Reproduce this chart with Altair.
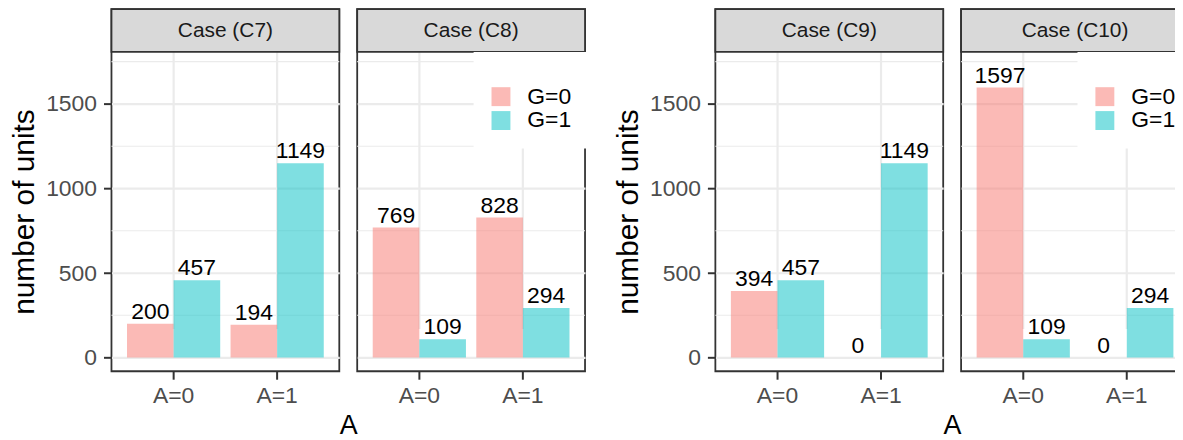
import altair as alt
import pandas as pd

# ---- data ----
cases = ["Case (C7)", "Case (C8)", "Case (C9)", "Case (C10)"]
a_levels = ["A=0", "A=0", "A=1", "A=1"]
g_levels = ["G=0", "G=1", "G=0", "G=1"]
counts_c7 = [200, 457, 194, 1149]
counts_c8 = [769, 109, 828, 294]
counts_c9 = [394, 457, 0, 1149]
counts_c10 = [1597, 109, 0, 294]
major_ticks = [0, 500, 1000, 1500]
minor_ticks = [250, 750, 1250, 1750]
g_domain = ["G=0", "G=1"]
g_colors = ["#F8766D", "#00BFC4"]

FONT = "Liberation Sans"
W, H, STRIP = 229, 364, 43
GRID = "#EBEBEB"
DARK = "#333333"

yscale = alt.Scale(domain=[-80.6, 1807.6], range=[H, STRIP], nice=False, zero=False)
xscale = alt.Scale(domain=["A=0", "A=1"], paddingInner=0.1, paddingOuter=0.15)
oscale = alt.Scale(domain=g_domain, paddingInner=0, paddingOuter=0)


def panel(case, counts, show_y, show_legend):
    df = pd.DataFrame({"A": a_levels, "G": g_levels, "n": counts})
    minor = pd.DataFrame({"v": minor_ticks})
    strip = pd.DataFrame({"case": [case]})

    if show_y:
        yaxis = alt.Axis(values=major_ticks, format="d", title="number of units",
                         titleFontSize=30, titleFontWeight="normal", titleColor="black",
                         titlePadding=6, labelFontSize=23, labelColor="#4D4D4D",
                         labelPadding=7, tickSize=8, tickColor=DARK, tickWidth=2,
                         domain=False, grid=True, gridColor=GRID, gridWidth=2.2)
    else:
        yaxis = alt.Axis(values=major_ticks, labels=False, ticks=False, domain=False,
                         title=None, grid=True, gridColor=GRID, gridWidth=2.2)
    xaxis = alt.Axis(title=None, labelAngle=0, labelFontSize=23, labelColor="#4D4D4D",
                     tickColor=DARK, tickWidth=2, tickSize=8, labelPadding=5,
                     domain=False, grid=True, gridColor=GRID, gridWidth=2.2)

    if show_legend:
        legend = alt.Legend(orient="none", legendX=117, legendY=STRIP, fillColor="white",
                            padding=16, title=" ", titleFontSize=10, titlePadding=7.5,
                            symbolType="square", symbolSize=361, symbolStrokeWidth=0,
                            symbolOpacity=0.5, labelFontSize=23, labelColor="black",
                            labelOffset=15, rowPadding=-1)
    else:
        legend = None

    rules = alt.Chart(minor).mark_rule(color=GRID, strokeWidth=1.1).encode(
        y=alt.Y("v:Q", scale=yscale, axis=yaxis)
    )
    base = alt.Chart(df).encode(
        x=alt.X("A:N", scale=xscale, axis=xaxis),
        xOffset=alt.XOffset("G:N", scale=oscale),
        y=alt.Y("n:Q", scale=yscale, axis=yaxis),
    )
    bars = base.mark_bar(opacity=0.5).encode(
        color=alt.Color("G:N", scale=alt.Scale(domain=g_domain, range=g_colors), legend=legend)
    )
    labels = base.mark_text(baseline="alphabetic", dy=-5, fontSize=23, font=FONT,
                            color="black").encode(text="n:Q")
    strip_rect = alt.Chart(strip).mark_rect(fill="#D9D9D9", stroke=DARK, strokeWidth=1.8).encode(
        x=alt.value(0), x2=alt.value(W), y=alt.value(0), y2=alt.value(STRIP)
    )
    strip_text = alt.Chart(strip).mark_text(fontSize=21, font=FONT, color="#1A1A1A",
                                            baseline="middle").encode(
        x=alt.value(W / 2), y=alt.value(STRIP / 2 + 1), text="case:N"
    )
    return alt.layer(rules, bars, labels, strip_rect, strip_text).properties(width=W, height=H)


def group(p1, p2):
    return alt.hconcat(p1, p2, spacing=14).resolve_scale(
        color="independent", x="independent", y="independent"
    ).properties(
        title=alt.TitleParams(text="A", orient="bottom", anchor="middle", fontSize=27,
                              fontWeight="normal", color="black", offset=5, dx=50, font=FONT)
    )


left = group(panel(cases[0], counts_c7, True, False), panel(cases[1], counts_c8, False, True))
right = group(panel(cases[2], counts_c9, True, False), panel(cases[3], counts_c10, False, True))

chart = alt.hconcat(left, right, spacing=23).resolve_scale(
    color="independent", x="independent", y="independent"
).properties(
    padding={"left": 0, "top": -2, "right": -18, "bottom": 0}
).configure(
    font=FONT
).configure_view(
    stroke=DARK, strokeWidth=1.8
)

chart.save("out.html", embed_options={"renderer": "svg", "actions": False})
